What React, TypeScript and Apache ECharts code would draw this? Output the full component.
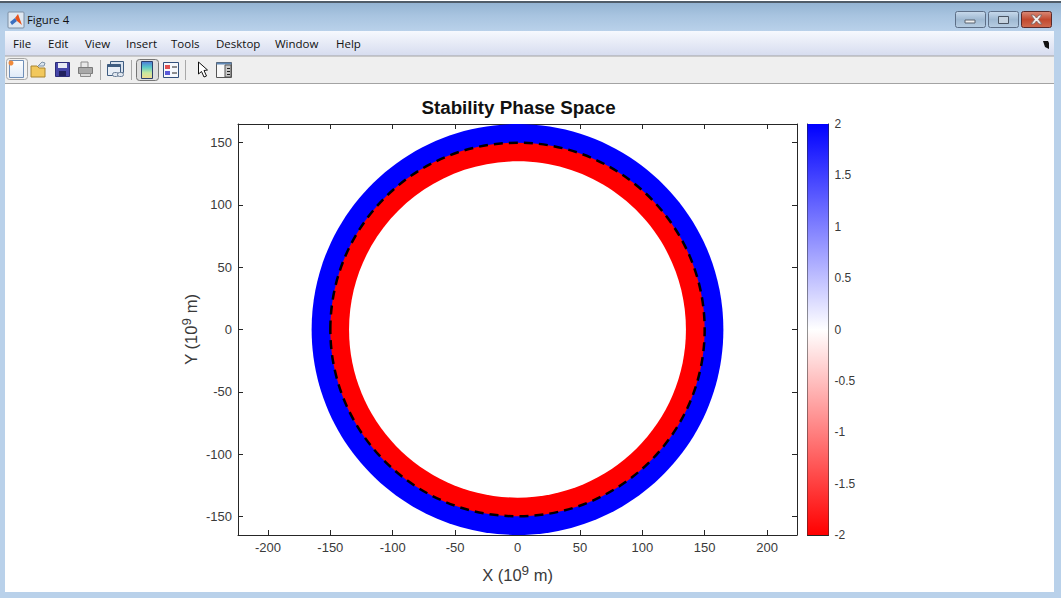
import React, { useEffect, useRef } from "react";
import * as echarts from "echarts";

const ringRadii = [165, 150, 135];
const ringColors = ["#0000ff", "#ff0000", "#ffffff"];
const boundaryRadius = [150];
const xTicks = [-200, -150, -100, -50, 0, 50, 100, 150, 200];
const yTicks = [-150, -100, -50, 0, 50, 100, 150];
const colorbarRange = [-2, 2];
const colorbarColors = ["#0000ff", "#ffffff", "#ff0000"];
const menuItems: [string, number][] = [
  ["File", 13], ["Edit", 48], ["View", 85], ["Insert", 126], ["Tools", 171],
  ["Desktop", 216], ["Window", 275], ["Help", 336],
];

const FONT = '"Liberation Sans", Arial, sans-serif';
const UI = '"Open Sans", "Noto Sans", sans-serif';
const TXT = "#3a3a3a";
const LINE = "#262626";

const vgrad = (stops: string[]) =>
  new echarts.graphic.LinearGradient(0, 0, 0, 1,
    stops.map((color, i) => ({ offset: i / (stops.length - 1), color })));

const rect = (x: number, y: number, w: number, h: number, fill: any, stroke?: string, r = 0): any => ({
  type: "rect", shape: { x, y, width: w, height: h, r }, style: { fill, stroke: stroke ?? "none", lineWidth: 1 }, silent: true,
});
const poly = (pts: number[][], fill: string, stroke?: string): any => ({
  type: "polygon", shape: { points: pts }, style: { fill, stroke: stroke ?? "none", lineWidth: 1 }, silent: true,
});
const line = (x1: number, y1: number, x2: number, y2: number, stroke: string, lineWidth = 1): any => ({
  type: "line", shape: { x1, y1, x2, y2 }, style: { stroke, lineWidth }, silent: true,
});
const label = (text: string, x: number, y: number, fontSize = 12, fill = "#111", extra: any = {}): any => ({
  type: "text", x, y, silent: true,
  style: { text, fill, font: `${fontSize}px ${UI}`, textVerticalAlign: "middle", ...extra },
});

function chrome(): any[] {
  const els: any[] = [
    // frame
    rect(0, 0, 1061, 31, vgrad(["#8fb0cf", "#a8c4e0", "#b9d1ea"])),
    rect(0, 0, 1061, 1, "#ffffff"),
    line(0, 2, 1061, 2, "#3a3f45", 1.5),
    rect(0, 31, 5, 567, "#b9d1ea"),
    rect(1054, 31, 7, 567, "#b9d1ea"),
    rect(0, 592, 1061, 6, "#b9d1ea"),
    // menu and tool bars
    rect(5, 31, 1049, 25, vgrad(["#f6f9fe", "#e6eaf6", "#d6dcef"])),
    rect(5, 56, 1049, 27, "#efefef"),
    line(5, 56, 1054, 56, "#a3a3a3"),
    line(5, 83.5, 1054, 83.5, "#a3a3a3"),
    // window title
    rect(8, 12, 16, 16, "#dfe8f2", "#7c8ea3", 1),
    poly([[10, 22], [15, 18], [17, 21], [12, 25]], "#3b6fc0"),
    poly([[15, 18], [18, 14], [22, 25], [17, 21]], "#e8541c"),
    label("Figure 4", 27, 19.5, 11.3, "#101010"),
    // window buttons
    rect(955.5, 11.5, 30, 16, vgrad(["#c8daec", "#9fb9d2", "#b7cde2"]), "#5d6f87", 2),
    rect(965, 20, 10, 3, "#f0f0f0", "#5a6470"),
    rect(988.5, 11.5, 30, 16, vgrad(["#c8daec", "#9fb9d2", "#b7cde2"]), "#5d6f87", 2),
    rect(998.5, 16.5, 10, 7, "#c5d3e0", "#4a5563"),
    rect(1021.5, 11.5, 30, 16, vgrad(["#d98a78", "#c2492f", "#cf6b50"]), "#5a2a2a", 2),
    poly([[1031, 15], [1034, 15], [1036.5, 18], [1039, 15], [1042, 15], [1038.5, 19.5], [1042, 24], [1039, 24], [1036.5, 21], [1034, 24], [1031, 24], [1034.5, 19.5]], "#f2f2f2", "#8a6a66"),
    poly([[1043, 41], [1048, 41], [1049, 43], [1049, 49], [1045, 47]], "#111"),
    // new
    rect(6.5, 58.5, 21, 21, "#f2f2f2", "#a5a5a5", 3),
    rect(9.5, 60.5, 14, 17, vgrad(["#ffffff", "#dfeaf8"]), "#6f8fb8"),
    { type: "circle", shape: { cx: 11, cy: 63, r: 2.5 }, style: { fill: "#f08a3c" }, silent: true },
    // open
    poly([[31, 66], [37, 66], [39, 68], [45, 68], [45, 77], [31, 77]], "#f2c85c", "#a8842e"),
    poly([[38, 66], [42, 62], [45, 63], [44, 66]], "#d8e4ef", "#7f93a8"),
    // save
    rect(55.5, 62.5, 14, 14, "#4545a8", "#2c2c78"),
    rect(58, 63, 9, 5, "#e8eaf4"),
    rect(59, 71, 7, 5, "#20205e"),
    // print
    rect(81, 62, 7, 6, "#e8e8e8", "#8b8b8b"),
    rect(78.5, 67.5, 14, 6, "#a8a8a8", "#7a7a7a"),
    rect(80.5, 73.5, 10, 3, "#d8d8d8", "#8b8b8b"),
    line(100.5, 60, 100.5, 80, "#a8a8a8"),
    // link
    rect(110.5, 61.5, 13, 11, "#d9e2ee", "#3e5c80"),
    rect(107.5, 64.5, 13, 11, "#e8eef6", "#3e5c80"),
    rect(107.5, 64.5, 13, 2.5, "#3e5c80"),
    rect(112.5, 72.5, 6, 4, "#dfe6ef", "#6a7f98", 2),
    rect(117.5, 72.5, 6, 4, "#dfe6ef", "#6a7f98", 2),
    line(131.5, 60, 131.5, 80, "#a8a8a8"),
    // colorbar button
    rect(136.5, 59.5, 22, 21, "#dedede", "#757575", 3),
    rect(141.5, 61.5, 11, 17, vgrad(["#4d78d8", "#58c8c8", "#c8e8a0", "#f2d890"]), "#2c3f6c"),
    // legend
    rect(163.5, 62.5, 15, 15, "#f6f8fc", "#33507c"),
    rect(165, 65, 5, 4, "#e05050"),
    rect(165, 71, 5, 4, "#5a5ad8"),
    line(172, 67, 177, 67, "#222"),
    line(172, 73, 177, 73, "#222"),
    line(185.5, 60, 185.5, 80, "#a8a8a8"),
    // pointer
    poly([[198.5, 62], [198.5, 74], [201.5, 71.5], [204, 77], [206.5, 76], [204, 70.5], [207.5, 70]], "#ffffff", "#111"),
    // plot browser
    rect(216.5, 62.5, 15, 15, "#f8f8f8", "#555"),
    rect(216.5, 62.5, 15, 2, "#5f87b4"),
    rect(225, 65, 6, 12, "#c8c8c8", "#555"),
    line(227, 68.5, 230, 68.5, "#222"),
    line(227, 71.5, 230, 71.5, "#222"),
    line(227, 74.5, 230, 74.5, "#222"),
  ];
  menuItems.forEach(([t, x]) => els.push(label(t, x, 43.5, 11.5, "#111")));
  return els;
}

const boxAxis = (gridIndex: number, position: string, min: number, max: number, ticks: number[] | null, labelled: boolean, extra: any = {}): any => ({
  type: "value", gridIndex, position, min, max,
  axisLine: { show: true, onZero: false, lineStyle: { color: LINE, width: 1 } },
  axisTick: ticks
    ? { show: true, inside: true, length: 5, customValues: ticks, lineStyle: { color: LINE, width: 1 } }
    : { show: false },
  axisLabel: labelled && ticks
    ? { show: true, customValues: ticks, color: TXT, fontFamily: FONT, fontSize: 13, margin: 6, hideOverlap: false }
    : { show: false },
  splitLine: { show: false },
  ...extra,
});

const nameStyle = {
  color: TXT, fontFamily: FONT, fontSize: 16.5,
  rich: { s: { fontSize: 13.5, verticalAlign: "top", color: TXT, fontFamily: FONT, padding: [0, 0, 9, 0] } },
};

export default function App() {
  const ref = useRef<HTMLDivElement>(null);
  useEffect(() => {
    document.body.style.margin = "0";
    const chart = echarts.init(ref.current!, undefined, { renderer: "svg" });
    const xLim = 224, yLim = 165;
    chart.setOption({
      animation: false,
      backgroundColor: "#ffffff",
      textStyle: { fontFamily: FONT },
      title: {
        text: "Stability Phase Space", left: 513.5, top: 93, textAlign: "center",
        textStyle: { fontFamily: FONT, fontSize: 18.8, fontWeight: "bold", color: "#111" },
      },
      graphic: { elements: chrome() },
      grid: [
        { left: 238, top: 124, width: 559, height: 411 },
        { left: 807.5, top: 124, width: 21, height: 411 },
      ],
      xAxis: [
        boxAxis(0, "bottom", -xLim, xLim, xTicks, true, {
          name: "X (10{s|9} m)", nameLocation: "middle", nameGap: 28, nameTextStyle: nameStyle,
        }),
        boxAxis(0, "top", -xLim, xLim, xTicks, false),
        boxAxis(1, "bottom", 0, 1, null, false),
        boxAxis(1, "top", 0, 1, null, false),
      ],
      yAxis: [
        boxAxis(0, "left", -yLim, yLim, yTicks, true, {
          name: "Y (10{s|9} m)", nameLocation: "middle", nameGap: 36, nameRotate: 90, nameMoveOverlap: false, nameTextStyle: nameStyle,
        }),
        boxAxis(0, "right", -yLim, yLim, yTicks, false),
        {
          ...boxAxis(1, "right", colorbarRange[0], colorbarRange[1], null, false),
          interval: 0.5,
          axisTick: { show: true, inside: true, length: 3, lineStyle: { color: LINE, width: 1 } },
          axisLabel: { show: true, color: TXT, fontFamily: FONT, fontSize: 12, margin: 6 },
        },
        boxAxis(1, "left", colorbarRange[0], colorbarRange[1], null, false),
      ],
      series: [
        {
          type: "custom", xAxisIndex: 0, yAxisIndex: 0, z: 2, clip: true,
          data: ringRadii.map((r, i) => [r, i]),
          renderItem: (_p: any, api: any) => {
            const c = api.coord([0, 0]);
            const s = api.size([api.value(0), api.value(0)]);
            return {
              type: "ellipse",
              shape: { cx: c[0], cy: c[1], rx: s[0], ry: s[1] },
              style: { fill: ringColors[api.value(1)], stroke: "none" },
            };
          },
        },
        {
          type: "custom", xAxisIndex: 0, yAxisIndex: 0, z: 3, clip: true,
          data: boundaryRadius.map((r) => [r]),
          renderItem: (_p: any, api: any) => {
            const c = api.coord([0, 0]);
            const s = api.size([api.value(0), api.value(0)]);
            return {
              type: "ellipse",
              shape: { cx: c[0], cy: c[1], rx: s[0], ry: s[1] },
              style: { fill: "none", stroke: "#000000", lineWidth: 2.5, lineDash: [9, 6] },
            };
          },
        },
        {
          type: "custom", xAxisIndex: 2, yAxisIndex: 2, z: 1,
          data: [[0, colorbarRange[0], 1, colorbarRange[1]]],
          renderItem: (_p: any, api: any) => {
            const a = api.coord([api.value(0), api.value(1)]);
            const b = api.coord([api.value(2), api.value(3)]);
            return {
              type: "rect",
              shape: { x: a[0], y: b[1], width: b[0] - a[0], height: a[1] - b[1] },
              style: { fill: vgrad(colorbarColors), stroke: "none" },
            };
          },
        },
      ],
    });
    return () => chart.dispose();
  }, []);
  return <div ref={ref} style={{ width: 1061, height: 598 }} />;
}
